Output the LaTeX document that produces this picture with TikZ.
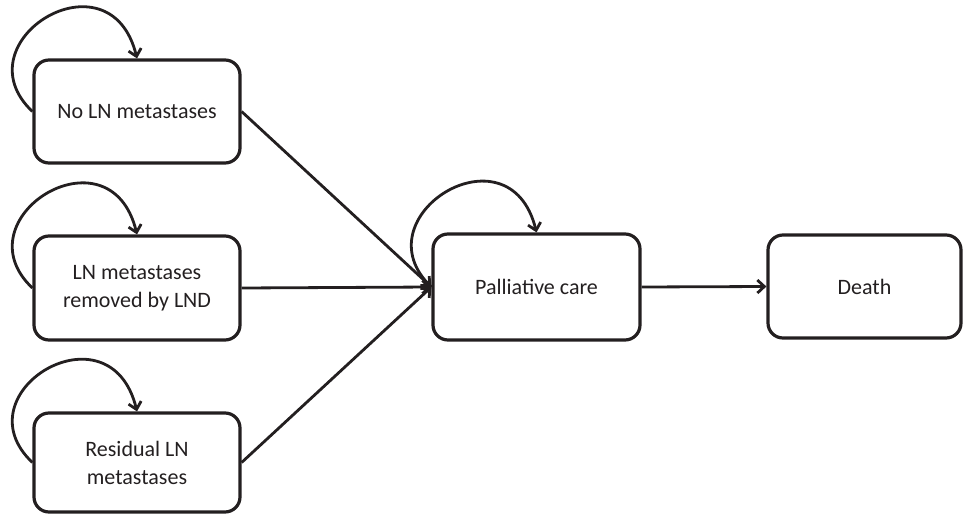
\documentclass[tikz,border=0pt]{standalone}
\usepackage{fontspec}
\setmainfont{Carlito}
\usetikzlibrary{arrows.meta}
\definecolor{ink}{HTML}{231F20}
\begin{document}
\begin{tikzpicture}[x=1pt,y=-1pt,
  statebox/.style={draw=ink, line width=3.2pt, rounded corners=15pt, inner sep=0pt,
    align=center, text=ink, font=\fontsize{22}{28}\selectfont},
  flow/.style={draw=ink, line width=2.8pt, -{Straight Barb[length=7pt,width=13pt,line width=2.8pt]}},
]
\useasboundingbox (0,0) rectangle (963,516);
\node[statebox, minimum width=206pt, minimum height=103pt] (n1) at (137,111.5) {No LN metastases};
\node[statebox, minimum width=206pt, minimum height=104pt] (n2) at (137,288) {LN metastases\\removed by LND};
\node[statebox, minimum width=206pt, minimum height=99pt] (n3) at (137,462.5) {Residual LN\\metastases};
\node[statebox, minimum width=207pt, minimum height=106pt] (pc) at (536.5,287) {Palliative care};
\node[statebox, minimum width=193pt, minimum height=103pt] (d) at (864.5,286.5) {Death};
\draw[flow] (n1.east) -- (pc.west);
\draw[flow] (n2.east) -- (pc.west);
\draw[flow] (n3.east) -- (pc.west);
\draw[flow] (pc.east) -- (d.west);
\foreach \b in {n1,n2,n3,pc}{
  \draw[flow] (\b.west) .. controls +(-74,-70) and +(-27,-110) .. (\b.north);
}
\end{tikzpicture}
\end{document}
